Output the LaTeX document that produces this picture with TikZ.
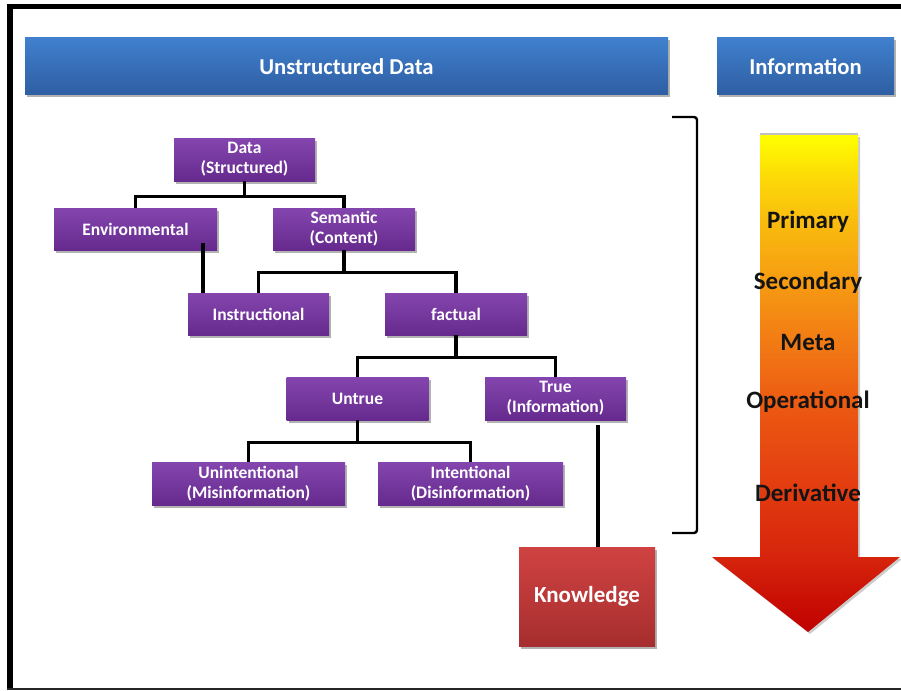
\documentclass[tikz,border=0pt]{standalone}
\usepackage{fontspec}
\setmainfont{Carlito}
\usetikzlibrary{shadows,calc}

\definecolor{barTop}{RGB}{64,128,206}
\definecolor{barBot}{RGB}{46,94,162}
\definecolor{purTop}{RGB}{132,70,174}
\definecolor{purBot}{RGB}{102,42,142}
\definecolor{redTop}{RGB}{208,66,66}
\definecolor{redBot}{RGB}{166,46,46}
\definecolor{ink}{RGB}{20,20,20}

\definecolor{heatA}{RGB}{192,0,0}
\definecolor{heatB}{RGB}{214,36,12}
\definecolor{heatC}{RGB}{226,58,16}
\definecolor{heatD}{RGB}{236,90,18}
\definecolor{heatE}{RGB}{242,122,20}
\definecolor{heatF}{RGB}{246,154,18}
\definecolor{heatG}{RGB}{249,186,14}
\definecolor{heatH}{RGB}{252,216,8}
\definecolor{heatI}{RGB}{255,255,0}

\pgfdeclareverticalshading{heatarrow}{100bp}{%
  color(0bp)=(heatA);
  color(25bp)=(heatA);
  color(32.5bp)=(heatB);
  color(39bp)=(heatC);
  color(48bp)=(heatD);
  color(54bp)=(heatE);
  color(60bp)=(heatF);
  color(66bp)=(heatG);
  color(70.5bp)=(heatH);
  color(75bp)=(heatI);
  color(100bp)=(heatI)}

\tikzset{
  boxshadow/.style={drop shadow={shadow xshift=2pt, shadow yshift=-2.5pt, opacity=0.3, fill=black}},
  header/.style={boxshadow, top color=barTop, bottom color=barBot, text=white,
    font=\bfseries\fontsize{22.7}{26}\selectfont, inner sep=0pt, minimum height=57pt},
  catbox/.style={boxshadow, top color=purTop, bottom color=purBot, text=white,
    font=\bfseries\fontsize{17.5}{20}\selectfont, align=center, inner sep=0pt},
  knowbox/.style={boxshadow, top color=redTop, bottom color=redBot, text=white,
    font=\bfseries\fontsize{23}{26}\selectfont, inner sep=0pt},
  link/.style={draw=black, line width=3.1pt},
  levellabel/.style={font=\bfseries\fontsize{25}{28}\selectfont, text=ink},
}

\begin{document}
\begin{tikzpicture}[x=1pt, y=-1pt]
\useasboundingbox (0,0) rectangle (901,690);

% frame
\fill[black] (7,4) rectangle (901,9);
\fill[black] (7,4) rectangle (13,690);
\fill[black!85] (7,687.5) rectangle (901,690);

% headers
\node[header, minimum width=643pt] (unstr) at (346.5,66.5) {Unstructured Data};
\node[header, minimum width=177pt] (info) at (805.5,66.5) {Information};

% category tree
\node[catbox, minimum width=141pt, minimum height=43pt] (data)  at (244.5,159.5) {Data\\(Structured)};
\node[catbox, minimum width=163pt, minimum height=42pt] (env)   at (135.5,229)   {Environmental};
\node[catbox, minimum width=142pt, minimum height=42pt] (sem)   at (344,229)     {Semantic\\(Content)};
\node[catbox, minimum width=141pt, minimum height=42pt] (instr) at (258.5,314)   {Instructional};
\node[catbox, minimum width=142pt, minimum height=42pt] (fact)  at (456,314)     {factual};
\node[catbox, minimum width=142pt, minimum height=43pt] (untrue) at (357.5,398.5) {Untrue};
\node[catbox, minimum width=141pt, minimum height=43pt] (true)  at (555.5,398.5) {True\\(Information)};
\node[catbox, minimum width=193pt, minimum height=43pt] (unint) at (248.5,483.5) {Unintentional\\(Misinformation)};
\node[catbox, minimum width=185pt, minimum height=43pt] (inten) at (470.5,483.5) {Intentional\\(Disinformation)};
\node[knowbox, minimum width=136pt, minimum height=99pt] (know) at (587,596.5) {Knowledge};

% connectors
\draw[link] (data.south) -- ++(0,15) coordinate (j1) -| (env.north);
\draw[link] (j1) -| (sem.north);
\coordinate (envdrop) at ([xshift=67.5pt,yshift=7pt]env.south);
\draw[link] (envdrop) -- (envdrop |- instr.north);
\draw[link] (sem.south) -- ++(0,22) coordinate (j2) -| (instr.north);
\draw[link] (j2) -| (fact.north);
\draw[link] (fact.south) -- ++(0,22) coordinate (j3) -| (untrue.north);
\draw[link] (j3) -| (true.north);
\draw[link] (untrue.south) -- ++(0,22) coordinate (j4) -| (unint.north);
\draw[link] (j4) -| (inten.north);
\coordinate (truedrop) at ([xshift=42.5pt,yshift=-5pt]true.south);
\draw[link] (truedrop) -- (truedrop |- know.north);

% bracket
\coordinate (brtop) at (672,117);
\coordinate (brbot) at (672,533);
\draw[black, line width=2.4pt, rounded corners=3pt] (brtop) -- (697,117) -- (697,533) -- (brbot);

% level arrow
\fill[black, opacity=0.25] (760,133) rectangle (858,140);
\path[shading=heatarrow, drop shadow={shadow xshift=2pt, shadow yshift=-2pt, opacity=0.2, fill=black}]
  (760,135) -- (858,135) -- (858,557) -- (900,557) -- (808,632) -- (712,557) -- (760,557) -- cycle;

\foreach \name/\txt/\yy in {lp/Primary/222, ls/Secondary/283, lm/Meta/342, lo/Operational/402, ld/Derivative/493} {
  \node[levellabel] (\name) at (808,\yy) {\txt};
}
\end{tikzpicture}
\end{document}
